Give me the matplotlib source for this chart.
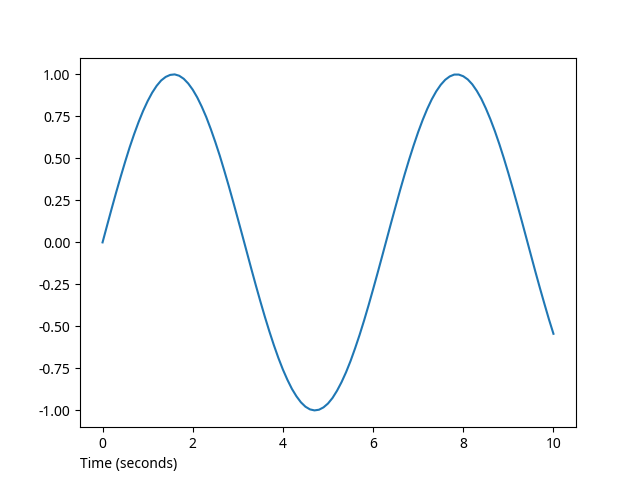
import matplotlib
matplotlib.use("Agg")
from matplotlib import pyplot as plt
import numpy as np

plt.rcParams['font.family'] = ['Noto Sans', 'DejaVu Sans']
plt.rcParams['axes.unicode_minus'] = False

# time in seconds, signal value
time_s = np.arange(0, 10.001, 0.1)
signal = [0.000, 0.100, 0.199, 0.296, 0.389, 0.479, 0.565, 0.644, 0.717, 0.783,
          0.841, 0.891, 0.932, 0.964, 0.985, 0.997, 1.000, 0.992, 0.974, 0.946,
          0.909, 0.863, 0.808, 0.746, 0.675, 0.598, 0.516, 0.427, 0.335, 0.239,
          0.141, 0.042, -0.058, -0.158, -0.256, -0.351, -0.443, -0.530, -0.612, -0.688,
          -0.757, -0.818, -0.872, -0.916, -0.952, -0.978, -0.994, -1.000, -0.996, -0.982,
          -0.959, -0.926, -0.883, -0.832, -0.773, -0.706, -0.631, -0.551, -0.465, -0.374,
          -0.279, -0.182, -0.083, 0.017, 0.117, 0.215, 0.312, 0.405, 0.494, 0.578,
          0.657, 0.729, 0.794, 0.851, 0.899, 0.938, 0.968, 0.988, 0.999, 0.999,
          0.989, 0.970, 0.941, 0.902, 0.855, 0.798, 0.734, 0.663, 0.585, 0.501,
          0.412, 0.319, 0.223, 0.125, 0.025, -0.075, -0.175, -0.272, -0.366, -0.458,
          -0.544]
yticks = [-1.0, -0.75, -0.5, -0.25, 0.0, 0.25, 0.5, 0.75, 1.0]

fig, ax = plt.subplots(figsize=(6.4, 4.8), dpi=100)
ax.plot(time_s, signal)
ax.set_yticks(yticks)
ax.set_yticklabels(['%.2f' % v for v in yticks])
ax.set_xlabel("Time (seconds)", loc='left')
fig.savefig("out.png")
